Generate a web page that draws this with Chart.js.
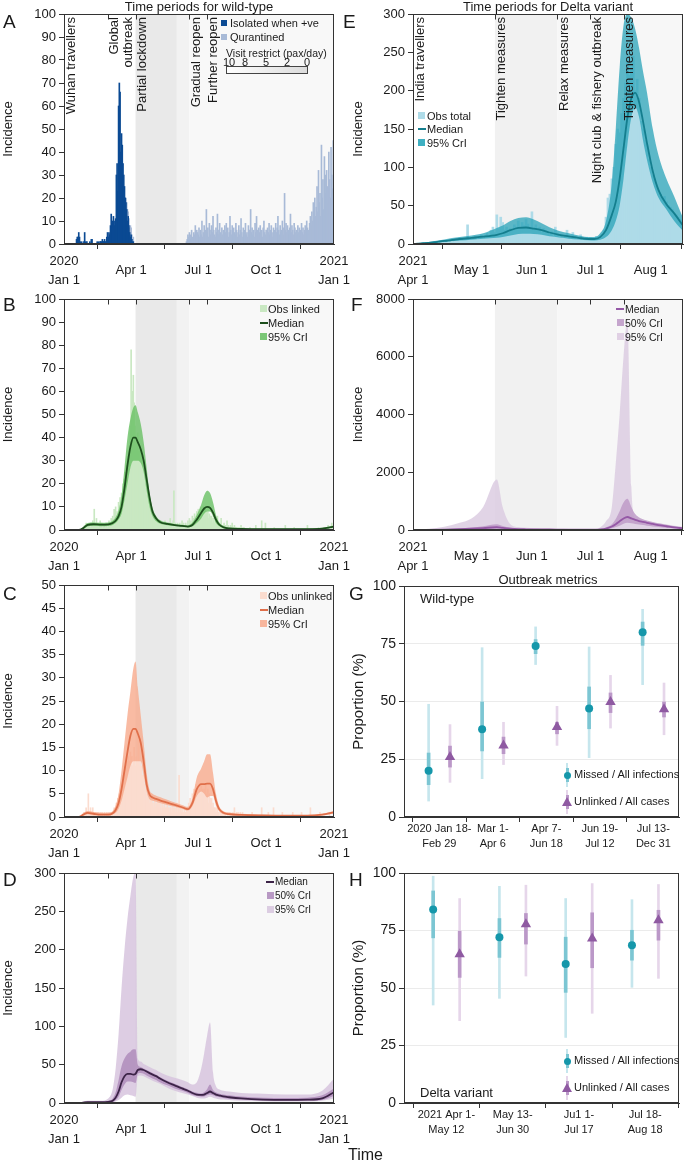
<!DOCTYPE html>
<html>
<head>
<meta charset="utf-8">
<script src="https://cdn.jsdelivr.net/npm/chart.js@4.4.1/dist/chart.umd.min.js"></script>
<style>
  body { margin:0; width:685px; height:1163px; position:relative; overflow:hidden; background:#fff;
         font-family:"Liberation Sans", Arial, sans-serif; color:#1a1a1a; }
  canvas { position:absolute; z-index:0; }
  .t { position:absolute; white-space:nowrap; line-height:1; z-index:2; }
  .c { transform:translateX(-50%); }
  .v { position:absolute; writing-mode:vertical-rl; transform:rotate(180deg); text-align:end;
       font-size:13px; line-height:14px; white-space:pre; z-index:2; }
  .sw { position:absolute; width:7px; height:7px; z-index:2; }
  .ln { position:absolute; width:8px; height:2px; z-index:2; }
  .lt { position:absolute; font-size:11px; line-height:1; white-space:nowrap; z-index:2; }
  .mk { position:absolute; z-index:2; }
</style>
</head>
<body>
<!-- panel letters and titles -->
<div class="t" style="left:3px;top:12px;font-size:19px">A</div>
<div class="t" style="left:3px;top:295px;font-size:19px">B</div>
<div class="t" style="left:3px;top:584px;font-size:19px">C</div>
<div class="t" style="left:3px;top:870px;font-size:19px">D</div>
<div class="t" style="left:343px;top:12px;font-size:19px">E</div>
<div class="t" style="left:351px;top:295px;font-size:19px">F</div>
<div class="t" style="left:349px;top:584px;font-size:19px">G</div>
<div class="t" style="left:349px;top:870px;font-size:19px">H</div>
<div class="t c" style="left:199px;top:0px;font-size:13px">Time periods for wild-type</div>
<div class="t c" style="left:548px;top:0px;font-size:13px">Time periods for Delta variant</div>
<div class="t c" style="left:548px;top:573px;font-size:13px">Outbreak metrics</div>
<div class="t" style="left:348px;top:1147px;font-size:16px">Time</div>

<!-- period labels -->
<div class="v" style="left:64px;top:17px">Wuhan travellers</div>
<div class="v" style="left:107px;top:17px">Global
outbreak</div>
<div class="v" style="left:135px;top:17px">Partial lockdown</div>
<div class="v" style="left:189px;top:17px">Gradual reopen</div>
<div class="v" style="left:206px;top:17px">Further reopen</div>
<div class="v" style="left:413px;top:17px">India travellers</div>
<div class="v" style="left:494px;top:17px">Tighten measures</div>
<div class="v" style="left:557px;top:17px">Relax measures</div>
<div class="v" style="left:590px;top:17px">Night club &amp; fishery outbreak</div>
<div class="v" style="left:622px;top:17px">Tighten measures</div>

<!-- legend A -->
<div class="sw" style="left:221px;top:20px;width:6px;height:6px;background:#0b4a93"></div>
<div class="lt" style="left:230px;top:18px">Isolated when +ve</div>
<div class="sw" style="left:221px;top:34px;width:6px;height:6px;background:#a8bad7"></div>
<div class="lt" style="left:230px;top:32px">Qurantined</div>
<div class="lt" style="left:226px;top:48px;font-size:10.5px">Visit restrict (pax/day)</div>
<div class="lt c" style="left:229px;top:57px">10</div>
<div class="lt c" style="left:245px;top:57px">8</div>
<div class="lt c" style="left:266px;top:57px">5</div>
<div class="lt c" style="left:287px;top:57px">2</div>
<div class="lt c" style="left:307px;top:57px">0</div>
<div class="mk" style="left:226px;top:66px;width:80px;height:6px;border:1px solid #444;background:linear-gradient(to right,#fff,#dcdcdc)"></div>

<!-- legend B -->
<div class="sw" style="left:260px;top:305px;background:#c9e8c2"></div>
<div class="lt" style="left:268px;top:304px">Obs linked</div>
<div class="ln" style="left:260px;top:322px;background:#1d4f1d"></div>
<div class="lt" style="left:268px;top:318px">Median</div>
<div class="sw" style="left:260px;top:333px;background:#7bc777"></div>
<div class="lt" style="left:268px;top:332px">95% CrI</div>

<!-- legend C -->
<div class="sw" style="left:260px;top:592px;background:#fbdccf"></div>
<div class="lt" style="left:268px;top:591px">Obs unlinked</div>
<div class="ln" style="left:260px;top:609px;background:#e06f4a"></div>
<div class="lt" style="left:268px;top:605px">Median</div>
<div class="sw" style="left:260px;top:620px;background:#f8b69d"></div>
<div class="lt" style="left:268px;top:619px">95% CrI</div>

<!-- legend D -->
<div class="ln" style="left:266px;top:881px;background:#3c2347"></div>
<div class="lt" style="left:275px;top:877px;font-size:10px">Median</div>
<div class="sw" style="left:267px;top:892px;background:#b899c4"></div>
<div class="lt" style="left:275px;top:891px;font-size:10px">50% CrI</div>
<div class="sw" style="left:267px;top:906px;background:#dccde2"></div>
<div class="lt" style="left:275px;top:905px;font-size:10px">95% CrI</div>

<!-- legend E -->
<div class="sw" style="left:418px;top:112px;background:#aedbe8"></div>
<div class="lt" style="left:427px;top:111px">Obs total</div>
<div class="ln" style="left:418px;top:128px;background:#147e8e"></div>
<div class="lt" style="left:427px;top:124px">Median</div>
<div class="sw" style="left:418px;top:139px;background:#3fb0c2"></div>
<div class="lt" style="left:427px;top:138px">95% CrI</div>

<!-- legend F -->
<div class="ln" style="left:616px;top:308px;background:#9558a6"></div>
<div class="lt" style="left:625px;top:304px;font-size:10.5px">Median</div>
<div class="sw" style="left:617px;top:319px;background:#c5a5cd"></div>
<div class="lt" style="left:625px;top:318px;font-size:10.5px">50% CrI</div>
<div class="sw" style="left:617px;top:333px;background:#e0d0e4"></div>
<div class="lt" style="left:625px;top:332px;font-size:10.5px">95% CrI</div>

<!-- legends G / H -->
<div class="t" style="left:420px;top:592px;font-size:13px">Wild-type</div>
<div class="t" style="left:420px;top:1086px;font-size:13px">Delta variant</div>

<script>
// ---------------- data ----------------
// wild-type time axis (days since 2020-01-01)
var wtTickDays = [0, 91, 182, 274, 366];
var wtTickLabels = [['2020', 'Jan 1'], 'Apr 1', 'Jul 1', 'Oct 1', ['2021', 'Jan 1']];
var wtPeriodDays = [60, 97, 170, 194];
var wtShading = [[97, 153, '#e9e9e9'], [153, 170, '#f2f2f2'], [170, 366, '#f8f8f8']];

// delta time axis (days since 2021-04-01)
var dvTickDays = [0, 30, 61, 91, 122];
var dvTickLabels = [['2021', 'Apr 1'], 'May 1', 'Jun 1', 'Jul 1', 'Aug 1'];
var dvPeriodDays = [42, 74, 91, 108];
var dvShading = [[42, 74, '#f1f1f1'], [74, 138.5, '#f7f7f7']];

// A: observed cases, daily
var isolatedStart = 15;
var isolated = [0,0,2,3,3,5,3,1,0,1, 0,0,1,5,1,0,1,0,0,0, 1,0,2,2,0,0,0,0,0,0,
  1,0,1,0,1,1,1,2,1,1, 2,1,1,3,5,3,5,4,8,13, 9,10,12,8,10,11,30,35,23,60,
  70,66,40,48,43,35,30,25,20,18, 15,10,12,8,5,3,4,2,1,1, 0];
var quarantinedEarlyStart = 83;
var quarantinedEarly = [0,2,3,5,2,3,2,5,3,2,1,2,0];
var quarantinedStart = 165;
var quarantined = [0,1,2,4,3,5,2,4,6,3, 2,5,4,8,3,6,5,4,7,3, 6,4,10,3,5,8,4,6,15,5,
  7,3,9,6,4,8,5,12,6,4, 3,7,5,13,4,6,9,5,3,7, 4,6,3,8,5,9,4,7,3,5,
  12,6,4,8,3,7,5,4,9,6, 3,5,8,4,6,11,5,3,7,4, 6,9,4,5,3,8,6,4,15,5,
  7,4,6,3,9,5,12,6,4,7, 5,8,4,6,3,7,10,5,4,6, 3,7,5,9,4,6,8,5,3,7,
  6,4,9,5,7,12,6,4,8,5, 6,10,7,4,22,6,9,5,8,6, 4,7,13,5,8,6,4,9,7,5,
  6,4,8,5,7,3,6,9,5,7, 4,6,8,5,10,7,6,4,9,12, 8,14,10,18,9,20,12,16,25,14,
  32,18,22,12,43,20,28,15,38,30, 22,32,25,18,40,28,20,42,30,24, 45];

// B / C: observed linked / unlinked, daily from day 25
var obsStart = 25;
var obsLinked = [0,0,1,2,1,3,2,1,2,1, 2,1,3,2,4,3,9,2,3,5, 2,3,1,2,4,2,3,1,2,1,
  2,1,3,2,1,2,4,3,2,5, 3,6,4,9,5,10,6,8,7,12, 9,14,11,16,13,20,18,22,25,20,
  28,25,32,30,35,45,78,40,60,67, 55,45,35,38,30,42,34,30,36,28, 32,26,30,22,25,18,20,15,17,12,
  14,10,11,8,9,6,7,5,6,4, 5,3,4,3,2,4,3,2,3,2, 3,2,4,2,3,1,2,3,2,5,
  2,3,1,4,17,2,3,1,2,3, 1,2,3,2,1,4,2,3,1,2, 3,1,2,4,2,5,3,4,2,6,
  5,4,7,5,6,8,6,9,7,8, 10,7,9,8,10,6,9,7,8,6, 8,5,7,6,4,6,3,5,4,3,
  4,2,3,6,2,3,1,2,5,1, 2,1,3,1,2,1,4,1,2,1, 1,2,1,3,1,1,2,1,1,1, 1,0,1,1,0,2,1,0,1,1];
var obsLinkedTail = [[252,1],[260,2],[268,4],[273,3],[285,1],[300,2],[312,1],[330,2],[345,1],[358,2],[363,3]];
var obsUnlinked = [0,0,1,1,0,2,1,0,5,1, 1,2,1,1,2,1,0,1,1,0, 1,0,1,0,0,1,0,1,0,0,
  1,0,0,1,0,1,0,1,1,0, 1,1,0,2,1,2,3,2,4,3, 5,4,6,7,6,9,8,10,11,9,
  12,10,13,11,12,14,12,13,11,12, 15,12,11,13,10,12,18,11,12,10, 11,9,8,9,7,5,6,4,5,3,
  4,3,5,2,4,3,2,3,4,2, 3,2,4,3,2,3,2,1,3,2, 2,3,1,2,2,3,1,2,1,2,
  2,1,3,2,1,2,1,2,3,1, 2,9,1,2,1,2,1,1,2,1, 1,2,1,2,3,2,4,3,3,5,
  4,6,5,4,7,5,6,5,4,6, 5,7,4,6,5,6,4,7,5,4, 6,3,5,4,3,4,2,3,2,2,
  1,2,1,2,1,1,0,1,1,0, 1,0,1,0,1,0,0,1,0,1, 0,1,0,0,1,0,2,0,0,1, 0,1,0,0,1,0,0,1,0,0];
var obsUnlinkedTail = [[255,1],[268,2],[277,1],[284,2],[296,1],[310,1],[322,1],[334,2],[347,1],[360,1]];

// wild-type model estimates at knot days
var wtDays = [0,20,26,32,40,50,60,66,70,74, 78,82,86,90,94,97,100,104,108,112,
  116,120,125,130,140,150,160,168,174,180, 186,190,194,198,202,206,210,216,224,240, 270,300,330,350,366];
var linkedMedian = [0,0,0.8,2.2,2.5,2.3,2.4,3,4,6, 10,18,28,36,40,40,38,35,30,22,
  14,8,5,3.5,2.6,2.1,1.8,1.5,2.2,4.5, 7.5,9.3,10,9.6,7.5,4.5,2.5,1.2,0.7,0.5, 0.4,0.4,0.4,0.6,1.5];
var linkedHi = [0,0,1.3,3,3.3,3.1,3.3,4,5.5,8.5, 15,27,40,48,53,54,51,46,38,27,
  16,9.5,6,4.3,3.2,2.6,2.3,2,3.2,6.5, 11,15,17,16,12,6.5,3.5,1.8,1,0.8, 0.6,0.6,0.7,1,2];
var linkedLo = [0,0,0.4,1.5,1.8,1.6,1.7,2.2,3,4.5, 7,13,20,27,30,30,30,29,25,17,
  10,6,3.8,2.8,2.1,1.7,1.4,1.2,1.5,3, 5,7,8,8,6,3,1.7,0.8,0.5,0.3, 0.3,0.3,0.3,0.4,1.1];
var unlinkedMedian = [0,0,0.5,0.9,0.7,0.5,0.5,0.8,1.5,3, 6,10,14,17.5,19,19,18,16,12,7,
  4.8,4.2,3.9,3.6,3.1,2.6,2.1,1.7,3,6, 7.1,7.1,7.2,7.2,6,3.5,1.8,0.9,0.6,0.45, 0.35,0.3,0.3,0.5,1];
var unlinkedHi = [0,0,0.8,1.3,1.1,0.9,0.9,1.3,2.5,5, 10,16,22,27,32,33.5,28,22,16,9.5,
  5.8,5,4.6,4.3,3.7,3.1,2.6,2.2,4,8.5, 10.5,12,13.5,13.5,9.5,5,2.5,1.3,0.9,0.7, 0.5,0.45,0.45,0.7,1.3];
var unlinkedLo = [0,0,0.3,0.6,0.4,0.3,0.3,0.5,0.9,1.8, 3.5,6,8.5,11,12,12,12,12,9,5.5,
  3.8,3.5,3.3,3,2.6,2.2,1.8,1.4,2.3,4.5, 5.5,5,4.2,4.5,4.5,2.5,1.3,0.6,0.4,0.3, 0.2,0.2,0.2,0.3,0.8];
var missedMedian = [0,0,0.5,1,1,1,1.5,3,7,15, 27,35,38,38,37,38,43,44,43,41,
  39,37,35,32,27,23,19,16,13,11, 10.5,11,13,15,13,11,10,8.5,7.5,6, 4.5,4,4.3,6,14];
var missed50Hi = [0,0,1,1.5,1.5,1.5,2.5,6,14,30, 48,58,64,67,70,70,50,47,45,43,
  41,39,37,34,29,25,21,18,15,13.5, 12.5,14,18,24,17,14,12.5,11,10,8.5, 7,6.5,7,10,19];
var missed50Lo = [0,0,0.2,0.5,0.5,0.5,0.8,1.5,3.5,8, 17,24,28,28,27,26,38,39,38,36,
  34,32,30,27,23,19,16,13,10.5,9, 8.3,8.5,10,11,10,8.5,7.8,6.5,5.5,4.5, 3.3,2.8,3,4,9];
var missed95Hi = [0,0,2,3,3,3,6,18,45,90, 150,200,240,270,295,300,58,54,51,49,
  47,45,43,40,36,33,30,27,24,27, 45,65,88,105,40,22,18,16,15,13, 12,11,11,16,32];
var missed95Lo = [0,0,0,0.2,0.3,0.3,0.5,1,2,4, 7,10,11,10,9,8,35,36,35,33,
  31,29,27,25,20,16,13,11,9,7, 6,6,7,8,7,6,5,4.5,4,3, 2.3,2,2,3,6];

// E: Delta observed total, daily from day 0
var deltaObs = [0,0,1,0,1,2,1,0,2,1, 1,3,2,1,4,2,3,5,2,4, 3,6,4,5,8,6,5,7,25,6,
  8,7,10,6,9,12,8,11,14,10, 18,22,15,38,20,35,28,18,22,15, 20,18,25,22,30,20,28,24,32,26,
  22,42,20,25,18,22,15,20,17,14, 12,16,10,22,14,9,12,8,11,18, 9,7,15,10,6,8,12,5,7,9,
  6,8,5,7,10,8,10,12,18,35, 60,65,85,100,130,150,145,170,190,210, 240,220,230,245,200,215,190,160,150,135,
  130,110,100,90,85,75,70,65,60,62, 55,50,48,45,40,38,35,32,30];

// Delta model estimates at knot days
var dvDays = [0,8,16,24,30,36,43,46,50,54, 58,62,66,70,75,80,85,90,93,96,
  99,102,104,106,108,110,112,114,116,118, 120,123,126,130,134,138.5];
var totalMedian = [0,1.5,4,6.5,8,9.5,12,14,18,21, 21.5,20,18,15,12,10,8,6.5,6.5,9,
  18,38,55,85,125,165,190,197,185,160, 132,95,70,52,40,24];
var totalHi = [0,2.5,6,9,11,14,21,24,30,34, 35,32,27,22,17,14,11,9,9,14,
  30,80,150,230,285,300,295,280,255,225, 198,150,115,85,62,34];
var totalLo = [0,0.8,2.5,4.5,5.5,7,8,9,11,13, 13.5,13,12,10,8.5,7,6,5,4.5,5.5,
  9,18,30,50,85,130,165,178,165,135, 110,80,60,45,30,17];
var dMissedMedian = [0,5,15,30,45,65,95,70,45,30, 25,22,20,18,15,12,10,8,10,20,
  50,120,200,300,400,450,400,350,310,280, 250,210,170,130,90,60];
var dMissed50Hi = [0,10,30,60,90,130,200,140,80,55, 45,38,33,30,25,20,16,14,17,35,
  90,200,380,650,950,1080,800,550,430,370, 330,280,230,180,130,85];
var dMissed50Lo = [0,2,7,15,22,32,50,35,25,17, 14,12,11,10,8,6,5,4,5,10,
  25,60,100,150,220,250,230,210,190,170, 150,125,100,75,55,35];
var dMissed95Hi = [0,40,110,250,400,800,1750,800,200,100, 80,65,55,48,40,35,30,25,35,90,
  300,800,2300,4000,6000,7300,1500,400,320,300, 280,260,230,190,150,110];

// G / H: outbreak metrics (%)
var wtPeriods = [['2020 Jan 18-', 'Feb 29'], ['Mar 1-', 'Apr 6'], ['Apr 7-', 'Jun 18'], ['Jun 19-', 'Jul 12'], ['Jul 13-', 'Dec 31']];
var wtMissed = [20, 38, 74, 47, 80];
var wtMissed50 = [[14, 27.7], [28.6, 49.8], [70.7, 76.8], [38.2, 56.3], [74.3, 84.4]];
var wtMissed95 = [[6.9, 48.8], [16.6, 73.3], [66, 82.3], [25.7, 73.6], [57.3, 89.9]];
var wtUnlinked = [26, 31, 39, 49.8, 46.6];
var wtUnlinked50 = [[21.6, 30.7], [27.4, 34.6], [36, 41], [45.2, 53.7], [43.3, 49.8]];
var wtUnlinked95 = [[15, 40], [22.7, 41], [31, 47.9], [38.5, 61.3], [35.6, 58]];
var dvPeriods = [['2021 Apr 1-', 'May 12'], ['May 13-', 'Jun 30'], ['Ju1 1-', 'Jul 17'], ['Jul 18-', 'Aug 18']];
var dvMissed = [84.1, 72.1, 60.4, 68.6];
var dvMissed50 = [[71.8, 92.2], [63.3, 80.2], [48.1, 72.1], [62.1, 75.1]];
var dvMissed95 = [[42.6, 98.6], [45.5, 94.2], [28.5, 88.9], [50.3, 88.4]];
var dvUnlinked = [64.7, 77.7, 71.5, 79.5];
var dvUnlinked50 = [[54.6, 74.7], [69.1, 82.4], [58.8, 82.7], [70.8, 83.8]];
var dvUnlinked95 = [[35.8, 88.9], [55.2, 94.7], [39, 95.4], [54.2, 95]];

// ---------------- helpers ----------------
Chart.defaults.font.family = '"Liberation Sans", Arial, sans-serif';
Chart.defaults.color = '#1a1a1a';
Chart.defaults.animation = false;

function daily(start, vals) { return vals.map(function (v, i) { return {x: start + i, y: v}; }); }
function pairs(list) { return list.map(function (p) { return {x: p[0], y: p[1]}; }); }
function knots(days, vals) { return days.map(function (d, i) { return {x: d, y: vals[i]}; }); }
function spans(offset, ranges) { return ranges.map(function (r, i) { return {x: i + offset, y: r}; }); }
function dots(offset, vals) { return vals.map(function (v, i) { return {x: i + offset, y: v}; }); }

function curve(data, color, width) {
  return {type: 'line', data: data, borderColor: color, borderWidth: width, pointRadius: 0,
          cubicInterpolationMode: 'monotone', fill: false};
}
function bandTop(data, color, fill) {
  return {type: 'line', data: data, borderColor: 'rgba(0,0,0,0)', borderWidth: 0, pointRadius: 0,
          cubicInterpolationMode: 'monotone', fill: fill || '+1', backgroundColor: color};
}
function bandBottom(data) {
  return {type: 'line', data: data, borderColor: 'rgba(0,0,0,0)', borderWidth: 0, pointRadius: 0,
          cubicInterpolationMode: 'monotone', fill: false};
}
function bars(data, color, thick) {
  return {type: 'bar', data: data, backgroundColor: color, barThickness: thick, grouped: false};
}

function framePlugin(shading, marks) {
  return {
    id: 'frame',
    beforeDatasetsDraw: function (chart) {
      var ctx = chart.ctx, a = chart.chartArea, x = chart.scales.x;
      ctx.save();
      (shading || []).forEach(function (s) {
        var x0 = x.getPixelForValue(s[0]), x1 = x.getPixelForValue(s[1]);
        ctx.fillStyle = s[2];
        ctx.fillRect(x0, a.top, x1 - x0, a.bottom - a.top);
      });
      ctx.restore();
    },
    afterDraw: function (chart) {
      var ctx = chart.ctx, a = chart.chartArea, x = chart.scales.x;
      ctx.save();
      ctx.strokeStyle = '#333';
      ctx.lineWidth = 1;
      var l = Math.round(a.left) + 0.5, t = Math.round(a.top) + 0.5;
      var r = Math.round(a.right) - 0.5, b = Math.round(a.bottom) - 0.5;
      ctx.strokeRect(l, t, r - l, b - t);
      (marks || []).forEach(function (d) {
        var px = Math.round(x.getPixelForValue(d)) + 0.5;
        ctx.beginPath(); ctx.moveTo(px, t); ctx.lineTo(px, t + 5); ctx.stroke();
      });
      ctx.restore();
    }
  };
}

// g: canvas left/width and the plot area box in page pixels
function panel(g, datasets, xs, ys, plugins, stacked) {
  var ct = g.T - 14, ch = g.B - ct + 46;
  var cv = document.createElement('canvas');
  cv.width = g.cw; cv.height = ch;
  cv.style.left = g.cl + 'px'; cv.style.top = ct + 'px';
  document.body.appendChild(cv);

  var xScale = {
    type: 'linear', min: xs.min, max: xs.max, offset: false, stacked: !!stacked,
    afterBuildTicks: function (s) { s.ticks = xs.ticks.map(function (v) { return {value: v}; }); },
    afterFit: function (s) { s.height = 46; s.paddingLeft = 0; s.paddingRight = 0; },
    ticks: {autoSkip: false, maxRotation: 0, minRotation: 0, padding: xs.pad, crossAlign: 'center',
            font: {size: xs.font, lineHeight: xs.lh}, color: '#1a1a1a',
            callback: function (v, i) { return xs.labels[i]; }},
    grid: {drawOnChartArea: false, tickLength: 5, color: '#333'},
    border: {color: '#333'}
  };
  var yScale = {
    min: 0, max: ys.max, stacked: !!stacked,
    afterFit: function (s) { s.width = g.L - g.cl; s.paddingTop = 0; s.paddingBottom = 0; },
    ticks: {stepSize: ys.step, padding: 3, font: {size: ys.font}, color: '#1a1a1a',
            callback: function (v) { return String(v); }},
    grid: ys.grid || {drawOnChartArea: false, tickLength: 5, color: '#333'},
    border: {color: '#333'},
    title: {display: true, text: ys.title, font: {size: ys.tfont}, color: '#1a1a1a',
            padding: {top: ys.tpad, bottom: 0}}
  };
  return new Chart(cv, {
    type: 'bar',
    data: {datasets: datasets},
    options: {
      responsive: false, animation: false, events: [],
      layout: {padding: {left: 0, top: 14, right: g.cl + g.cw - g.R, bottom: 0}},
      plugins: {legend: {display: false}, tooltip: {enabled: false}},
      scales: {x: xScale, y: yScale}
    },
    plugins: plugins
  });
}

var wtX = {min: 0, max: 366, ticks: wtTickDays, labels: wtTickLabels, font: 13, lh: 1.5, pad: 12};
var dvX = {min: 0, max: 138.5, ticks: dvTickDays, labels: dvTickLabels, font: 13, lh: 1.5, pad: 12};

// ---------------- A ----------------
panel({cl: 0, cw: 350, L: 64, R: 334, T: 14, B: 244},
  [bars(daily(isolatedStart, isolated), '#0b4a93', 1),
   bars(daily(quarantinedEarlyStart, quarantinedEarly).concat(daily(quarantinedStart, quarantined)), '#a8bad7', 1)],
  wtX, {max: 100, step: 10, font: 13, title: 'Incidence', tfont: 13, tpad: 1},
  [framePlugin(wtShading, wtPeriodDays)], true);

// ---------------- B ----------------
panel({cl: 0, cw: 350, L: 64, R: 334, T: 299, B: 530},
  [curve(knots(wtDays, linkedMedian), '#1d4f1d', 1.8),
   bandTop(knots(wtDays, linkedHi), 'rgba(105,192,100,0.8)'),
   bandBottom(knots(wtDays, linkedLo)),
   bars(daily(obsStart, obsLinked).concat(pairs(obsLinkedTail)), '#c9e8c2', 1)],
  wtX, {max: 100, step: 10, font: 13, title: 'Incidence', tfont: 13, tpad: 1},
  [framePlugin(wtShading, wtPeriodDays)]);

// ---------------- C ----------------
panel({cl: 0, cw: 350, L: 64, R: 334, T: 585, B: 817},
  [curve(knots(wtDays, unlinkedMedian), '#e06f4a', 1.8),
   bandTop(knots(wtDays, unlinkedHi), 'rgba(247,170,140,0.8)'),
   bandBottom(knots(wtDays, unlinkedLo)),
   bars(daily(obsStart, obsUnlinked).concat(pairs(obsUnlinkedTail)), '#fbdccf', 1)],
  wtX, {max: 50, step: 5, font: 13, title: 'Incidence', tfont: 13, tpad: 1},
  [framePlugin(wtShading, wtPeriodDays)]);

// ---------------- D ----------------
panel({cl: 0, cw: 350, L: 64, R: 334, T: 873, B: 1103},
  [curve(knots(wtDays, missedMedian), '#3c2347', 1.8),
   bandTop(knots(wtDays, missed50Hi), 'rgba(178,145,190,0.9)'),
   bandBottom(knots(wtDays, missed50Lo)),
   bandTop(knots(wtDays, missed95Hi), 'rgba(215,196,222,0.85)'),
   bandBottom(knots(wtDays, missed95Lo))],
  wtX, {max: 300, step: 50, font: 13, title: 'Incidence', tfont: 13, tpad: 1},
  [framePlugin(wtShading, wtPeriodDays)]);

// ---------------- E ----------------
panel({cl: 340, cw: 345, L: 413, R: 683, T: 14, B: 244},
  [curve(knots(dvDays, totalMedian), '#147e8e', 1.8),
   bandTop(knots(dvDays, totalHi), 'rgba(40,163,184,0.75)'),
   bandBottom(knots(dvDays, totalLo)),
   bars(daily(0, deltaObs), '#aedbe8', 2)],
  dvX, {max: 300, step: 50, font: 13, title: 'Incidence', tfont: 13, tpad: 11},
  [framePlugin(dvShading, dvPeriodDays)]);

// ---------------- F ----------------
panel({cl: 340, cw: 345, L: 413, R: 683, T: 299, B: 530},
  [curve(knots(dvDays, dMissedMedian), '#9558a6', 1.8),
   bandTop(knots(dvDays, dMissed50Hi), 'rgba(190,155,200,0.85)'),
   bandBottom(knots(dvDays, dMissed50Lo)),
   bandTop(knots(dvDays, dMissed95Hi), 'rgba(220,204,226,0.85)', 'origin')],
  dvX, {max: 8000, step: 2000, font: 13, title: 'Incidence', tfont: 13, tpad: 11},
  [framePlugin(dvShading, dvPeriodDays)]);

// ---------------- G / H ----------------
function metricSets(missed, m50, m95, unlinked, u50, u95) {
  return [
    {type: 'line', data: dots(-0.2, missed), showLine: false, pointStyle: 'circle', pointRadius: 4,
     pointBorderWidth: 0, pointBackgroundColor: '#1597aa'},
    {type: 'line', data: dots(0.2, unlinked), showLine: false, pointStyle: 'triangle', pointRadius: 6,
     pointBorderWidth: 0, pointBackgroundColor: '#8f5aa2'},
    bars(spans(-0.2, m50), '#7cc6d3', 3),
    bars(spans(0.2, u50), '#bb98c8', 3),
    bars(spans(-0.2, m95), '#c6e6ed', 2),
    bars(spans(0.2, u95), '#e6d6ea', 2)
  ];
}
var metricGrid = {drawOnChartArea: true, tickLength: 5, tickColor: '#333',
  color: function (c) { return (c.tick && c.tick.value > 0 && c.tick.value < 100) ? '#ebebeb' : 'rgba(0,0,0,0)'; }};

panel({cl: 340, cw: 345, L: 404, R: 683, T: 586, B: 817},
  metricSets(wtMissed, wtMissed50, wtMissed95, wtUnlinked, wtUnlinked50, wtUnlinked95),
  {min: -0.66, max: 4.48, ticks: [0, 1, 2, 3, 4], labels: wtPeriods, font: 11, lh: 1.36, pad: 7},
  {max: 100, step: 25, font: 14, title: 'Proportion (%)', tfont: 15, tpad: 10, grid: metricGrid},
  [framePlugin([], [])]);

panel({cl: 340, cw: 345, L: 404, R: 683, T: 873, B: 1103},
  metricSets(dvMissed, dvMissed50, dvMissed95, dvUnlinked, dvUnlinked50, dvUnlinked95),
  {min: -0.64, max: 3.51, ticks: [0, 1, 2, 3], labels: dvPeriods, font: 11, lh: 1.36, pad: 7},
  {max: 100, step: 25, font: 14, title: 'Proportion (%)', tfont: 15, tpad: 10, grid: metricGrid},
  [framePlugin([], [])]);

// legend keys for G / H
function metricLegend(yc1, yc2) {
  var html = '';
  html += '<div class="mk" style="left:566px;top:' + (yc1 - 12) + 'px;width:2px;height:24px;background:#c6e6ed"></div>';
  html += '<div class="mk" style="left:565.5px;top:' + (yc1 - 7) + 'px;width:3px;height:14px;background:#7cc6d3"></div>';
  html += '<div class="mk" style="left:563.5px;top:' + (yc1 - 3.5) + 'px;width:7px;height:7px;border-radius:50%;background:#1597aa"></div>';
  html += '<div class="lt" style="left:574px;top:' + (yc1 - 6) + 'px">Missed / All infections</div>';
  html += '<div class="mk" style="left:566px;top:' + (yc2 - 12) + 'px;width:2px;height:24px;background:#e6d6ea"></div>';
  html += '<div class="mk" style="left:565.5px;top:' + (yc2 - 7) + 'px;width:3px;height:14px;background:#bb98c8"></div>';
  html += '<div class="mk" style="left:562px;top:' + (yc2 - 5) + 'px;width:0;height:0;border-left:5px solid transparent;border-right:5px solid transparent;border-bottom:9px solid #8f5aa2"></div>';
  html += '<div class="lt" style="left:574px;top:' + (yc2 - 6) + 'px">Unlinked / All cases</div>';
  var d = document.createElement('div');
  d.innerHTML = html;
  document.body.appendChild(d);
}
metricLegend(775, 802);
metricLegend(1061, 1088);
</script>
</body>
</html>
